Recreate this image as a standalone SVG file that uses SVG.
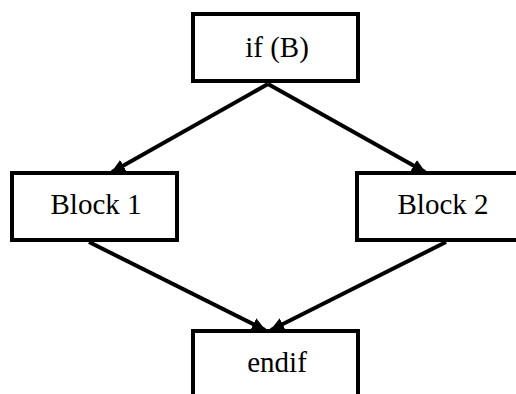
<svg xmlns="http://www.w3.org/2000/svg" width="516" height="394" viewBox="0 0 516 394">
<style>
.box{fill:#fff;stroke:#000;stroke-width:4}
.lbl{font-family:"Liberation Serif","Times New Roman",serif;font-size:29px;fill:#000;text-anchor:middle}
.edge{stroke:#000;stroke-width:4;fill:none;marker-end:url(#ah)}
</style>
<defs>
<marker id="ah" markerUnits="userSpaceOnUse" markerWidth="14" markerHeight="14" viewBox="0 0 14 14" refX="13" refY="7" orient="auto">
<path d="M0,0.5 L14,7 L0,13.5 z" fill="#000"/>
</marker>
</defs>
<rect width="516" height="394" fill="#fff"/>
<g id="connectors">
<line class="edge" x1="268" y1="84" x2="112" y2="172"/>
<line class="edge" x1="268" y1="84" x2="425" y2="172"/>
<line class="edge" x1="89" y1="242" x2="265" y2="330"/>
<line class="edge" x1="446" y1="242" x2="271" y2="330"/>
</g>
<g id="n-if">
<rect class="box" x="193" y="14" width="165" height="67"/>
<text class="lbl" x="277" y="57">if (B)</text>
</g>
<g id="n-block1">
<rect class="box" x="12" y="173" width="165" height="67"/>
<text class="lbl" x="96" y="214">Block 1</text>
</g>
<g id="n-block2">
<rect class="box" x="357" y="173" width="165" height="67"/>
<text class="lbl" x="443" y="214">Block 2</text>
</g>
<g id="n-endif">
<rect class="box" x="193" y="331" width="165" height="67"/>
<text class="lbl" x="277" y="372">endif</text>
</g>
</svg>
